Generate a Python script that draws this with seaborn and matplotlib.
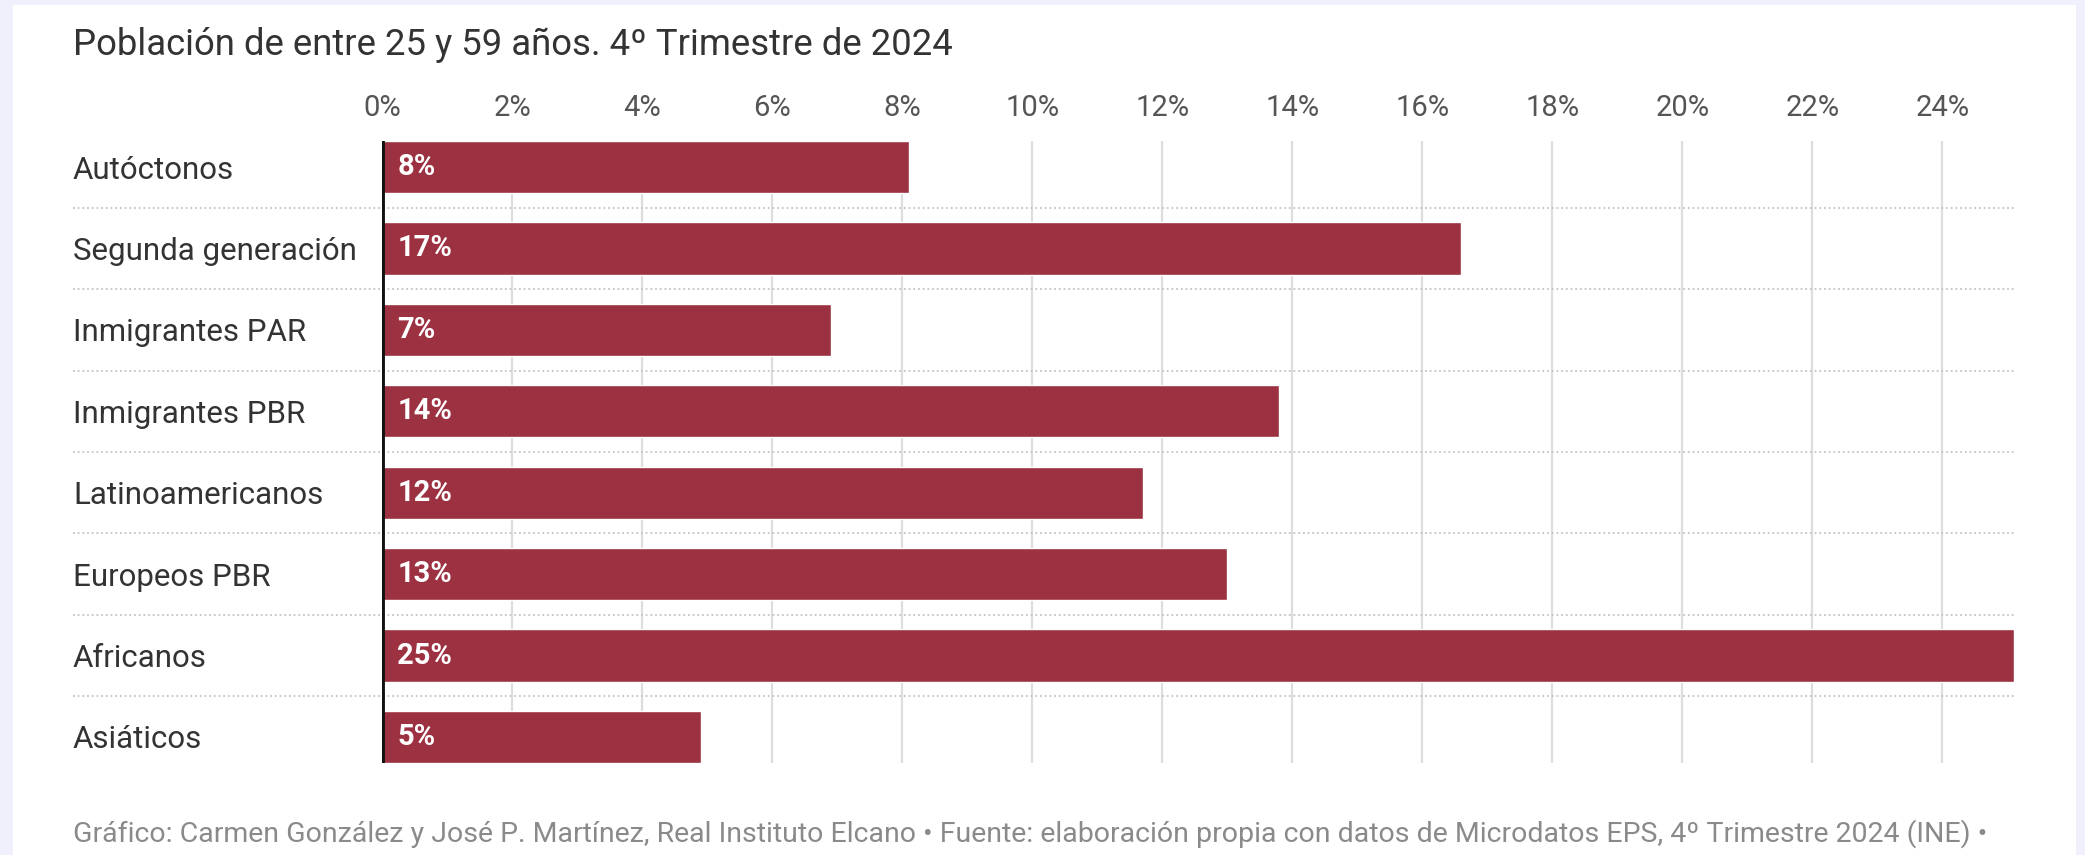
import matplotlib
matplotlib.use("Agg")
import matplotlib.pyplot as plt
import matplotlib.patches as mpatches
import seaborn as sns
import pandas as pd

# Data: share of the 25-59 population, Q4 2024 (%)
categories = [
    "Autóctonos",
    "Segunda generación",
    "Inmigrantes PAR",
    "Inmigrantes PBR",
    "Latinoamericanos",
    "Europeos PBR",
    "Africanos",
    "Asiáticos",
]
values = [8.1, 16.6, 6.9, 13.8, 11.7, 13.0, 25.1, 4.9]
tick_values = list(range(0, 25, 2))
tick_labels = [f"{t}%" for t in tick_values]

title = "Población de entre 25 y 59 años. 4º Trimestre de 2024"
footer = ("Gráfico: Carmen González y José P. Martínez, Real Instituto Elcano • "
          "Fuente: elaboración propia con datos de Microdatos EPS, 4º Trimestre 2024 (INE) •")

df = pd.DataFrame({"grupo": categories, "valor": values})

sns.set_theme(style="white")
plt.rcParams["font.family"] = ["Roboto", "DejaVu Sans"]

W, H, DPI = 2085, 855, 100
fig = plt.figure(figsize=(W / DPI, H / DPI), dpi=DPI, facecolor="#f0f0fc")

# white card behind the chart
card = mpatches.Rectangle((13 / W, 0), (2076 - 13) / W, 1 - 5 / H,
                          transform=fig.transFigure, facecolor="white",
                          edgecolor="none", zorder=-10)
fig.patches.append(card)

left, right, top, bottom = 382, 2014, 141, 763
ax = fig.add_axes([left / W, 1 - bottom / H, (right - left) / W, (bottom - top) / H])
ax.set_facecolor("none")
ax.set_zorder(1)

bar_w = 0.64
sns.barplot(data=df, x="valor", y="grupo", orient="h", color="#9c3141",
            saturation=1, width=bar_w, ax=ax, zorder=3)

ax.set_xlim(0, max(values))
ax.set_ylim(len(categories) - 1 + bar_w / 2, -bar_w / 2)

# x axis on top, percentage ticks
ax.xaxis.tick_top()
ax.set_xticks(tick_values)
ax.set_xticklabels(tick_labels, fontsize=21, color="#555555")
ax.tick_params(axis="x", length=0, pad=14)
ax.set_xlabel("")
ax.set_ylabel("")

# category labels, left aligned at the card margin
label_pad = (left - 73) * 72 / DPI
ax.tick_params(axis="y", length=0, pad=label_pad)
for lab in ax.get_yticklabels():
    lab.set_horizontalalignment("left")
    lab.set_fontsize(22.5)
    lab.set_color("#333333")

for s in ax.spines.values():
    s.set_visible(False)

# vertical grid lines
for t in tick_values[1:]:
    ax.axvline(t, color="#dddddd", lw=1.6, zorder=1)

# dotted separators between rows, running under the labels too
x0 = (73 - left) / (right - left)
for i in range(len(categories) - 1):
    ax.plot([x0, 1], [i + 0.5, i + 0.5], transform=ax.get_yaxis_transform(),
            color="#c4c4c4", lw=1.3, linestyle=(0, (1, 1.6)), clip_on=False, zorder=2)

# zero baseline
ax.axvline(0, color="#111111", lw=3.5, zorder=4)

# value labels inside the bars
for i, v in enumerate(values):
    ax.annotate(f"{round(v)}%", xy=(0, i), xytext=(11, 0), textcoords="offset points",
                ha="left", va="center", color="white", fontsize=21,
                fontweight="semibold", zorder=5)

fig.text(73 / W, 1 - 45 / H, title, ha="left", va="center",
         fontsize=26.3, color="#333333")
fig.text(73 / W, 1 - 834 / H, footer, ha="left", va="center",
         fontsize=20.5, color="#8a8a8a")

fig.savefig("out.png", dpi=DPI, facecolor=fig.get_facecolor())
